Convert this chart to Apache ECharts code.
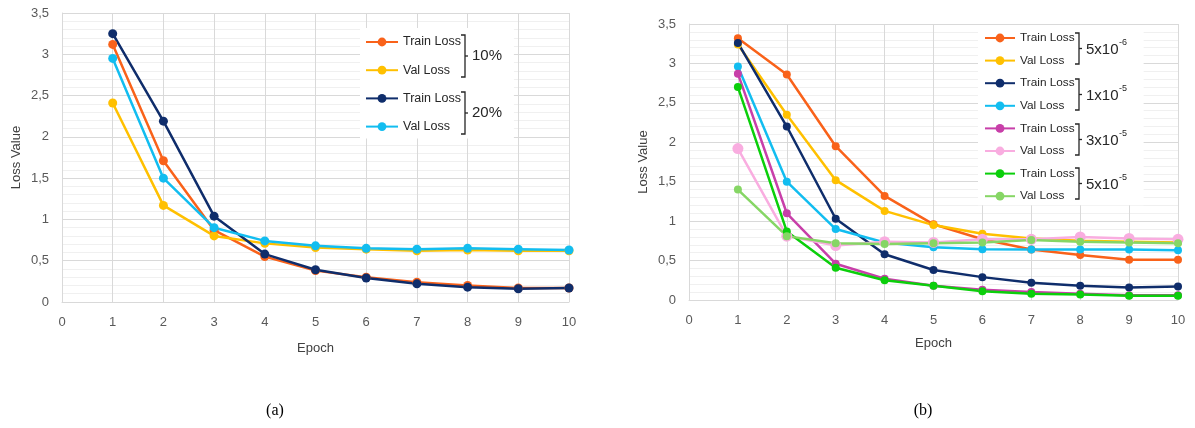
<!DOCTYPE html>
<html><head><meta charset="utf-8">
<script src="https://cdn.jsdelivr.net/npm/echarts@6/dist/echarts.min.js"></script>
<style>html,body{margin:0;padding:0;background:#fff}#c{width:1195px;height:428px}</style>
</head><body><div id="c"></div>
<script>
// ---------- DATA ----------
const epochs = [1, 2, 3, 4, 5, 6, 7, 8, 9, 10];
const yTicks = ['0', '0,5', '1', '1,5', '2', '2,5', '3', '3,5'];

// (a)
const trainA10 = [3.12, 1.71, 0.87, 0.55, 0.38, 0.30, 0.24, 0.20, 0.17, 0.17];
const valA10   = [2.41, 1.17, 0.80, 0.71, 0.66, 0.64, 0.62, 0.63, 0.62, 0.62];
const trainA20 = [3.25, 2.19, 1.04, 0.58, 0.39, 0.29, 0.22, 0.18, 0.16, 0.17];
const valA20   = [2.95, 1.50, 0.90, 0.74, 0.68, 0.65, 0.64, 0.65, 0.64, 0.63];
const groupsA  = ['10%', '20%'];

// (b)
const train5e6 = [3.32, 2.86, 1.95, 1.32, 0.96, 0.77, 0.64, 0.57, 0.51, 0.51];
const val5e6   = [3.24, 2.35, 1.52, 1.13, 0.95, 0.84, 0.78, 0.75, 0.74, 0.73];
const train1e5 = [3.26, 2.20, 1.03, 0.58, 0.38, 0.29, 0.22, 0.18, 0.16, 0.17];
const val1e5   = [2.96, 1.50, 0.90, 0.73, 0.67, 0.645, 0.64, 0.64, 0.64, 0.63];
const train3e5 = [2.87, 1.10, 0.46, 0.27, 0.18, 0.13, 0.10, 0.08, 0.06, 0.06];
const val3e5   = [1.92, 0.81, 0.69, 0.74, 0.73, 0.77, 0.77, 0.80, 0.78, 0.77];
const train5e5 = [2.70, 0.87, 0.41, 0.25, 0.18, 0.11, 0.08, 0.07, 0.055, 0.055];
const val5e5   = [1.40, 0.81, 0.72, 0.71, 0.72, 0.73, 0.76, 0.74, 0.73, 0.72];
const groupsB  = [['5x10', '-6'], ['1x10', '-5'], ['3x10', '-5'], ['5x10', '-5']];

// ---------- STYLE ----------
const FONT = 'Liberation Sans, Arial, sans-serif';
const C = {
  orange: '#F9621A', yellow: '#FFC000', navy: '#0F2D6B', cyan: '#12BDF0',
  magenta: '#C83FA9', pink: '#F9ADE0', green: '#0BCF0B', lgreen: '#86D665'
};

function pts(arr) { return epochs.map((e, i) => [e, arr[i]]); }
function mk(name, arr, color, grid, size) {
  return {
    name: name, type: 'line', xAxisIndex: grid, yAxisIndex: grid,
    data: pts(arr), symbol: 'circle', symbolSize: size || 9,
    lineStyle: { color: color, width: 2.5 }, itemStyle: { color: color },
    emphasis: { disabled: true }, animation: false
  };
}

const seriesA = [
  mk('Train Loss|a10', trainA10, C.orange, 0),
  mk('Val Loss|a10', valA10, C.yellow, 0),
  mk('Train Loss|a20', trainA20, C.navy, 0),
  mk('Val Loss|a20', valA20, C.cyan, 0)
];
const seriesB = [
  mk('Train Loss|b1', train5e6, C.orange, 1, 8),
  mk('Val Loss|b1', val5e6, C.yellow, 1, 8),
  mk('Train Loss|b2', train1e5, C.navy, 1, 8),
  mk('Val Loss|b2', val1e5, C.cyan, 1, 8),
  mk('Train Loss|b3', train3e5, C.magenta, 1, 8),
  mk('Val Loss|b3', val3e5, C.pink, 1, 11),
  mk('Train Loss|b4', train5e5, C.green, 1, 8),
  mk('Val Loss|b4', val5e5, C.lgreen, 1, 8)
];

function xAx(grid, gap) {
  return {
    type: 'value', gridIndex: grid, min: 0, max: 10, interval: 1,
    name: 'Epoch', nameLocation: 'middle', nameGap: gap,
    nameTextStyle: { color: '#404040', fontSize: 13, fontFamily: FONT },
    axisLine: { lineStyle: { color: '#d9d9d9' } }, axisTick: { show: false },
    axisLabel: { color: '#595959', fontSize: 13, fontFamily: FONT, margin: 14 },
    splitLine: { show: true, lineStyle: { color: '#d9d9d9', width: 1 } }
  };
}
function yAx(grid) {
  return {
    type: 'value', gridIndex: grid, min: 0, max: 3.5, interval: 0.5,
    name: 'Loss Value', nameLocation: 'middle', nameGap: 39, nameRotate: 90,
    nameTextStyle: { color: '#404040', fontSize: 13, fontFamily: FONT },
    axisLine: { show: true, lineStyle: { color: '#d9d9d9' } }, axisTick: { show: false },
    axisLabel: { color: '#595959', fontSize: 13, fontFamily: FONT, margin: 13,
      formatter: (v) => yTicks[Math.round(v / 0.5)] },
    splitLine: { show: true, lineStyle: { color: '#d9d9d9', width: 1 } },
    minorTick: { show: false, splitNumber: 5 },
    minorSplitLine: { show: true, lineStyle: { color: '#f0f0f0', width: 1 } }
  };
}

function legend(series, left, top, padding, itemWidth, itemGap, fs) {
  return {
    orient: 'vertical', left: left, top: top, padding: padding,
    backgroundColor: '#ffffff', itemWidth: itemWidth, itemHeight: 11, itemGap: itemGap,
    selectedMode: false,
    textStyle: { fontSize: fs, color: '#262626', fontFamily: FONT, lineHeight: 16 },
    formatter: (n) => n.split('|')[0],
    data: series.map(s => s.name)
  };
}

// brackets + group labels
function measure(text, size) {
  const cv = document.createElement('canvas').getContext('2d');
  cv.font = size + 'px ' + FONT;
  return cv.measureText(text).width;
}
const graphics = [];
function bracket(x, y1, y2) {
  const mid = (y1 + y2) / 2;
  graphics.push({
    type: 'polyline', z: 100,
    shape: { points: [[x - 4, y1], [x, y1], [x, y2], [x - 4, y2]] },
    style: { stroke: '#262626', lineWidth: 1.3, fill: null }
  });
  graphics.push({
    type: 'line', z: 100, shape: { x1: x, y1: mid, x2: x + 3, y2: mid },
    style: { stroke: '#262626', lineWidth: 1.3 }
  });
}
// (a)
const bracketsA = [[35, 77], [92, 134]];
groupsA.forEach((g, i) => {
  const [y1, y2] = bracketsA[i];
  bracket(465, y1, y2);
  graphics.push({ type: 'text', z: 100, x: 472, y: (y1 + y2) / 2,
    style: { text: g, fontSize: 15, fill: '#262626', font: '15px ' + FONT, verticalAlign: 'middle' } });
});
// (b)
const bracketsB = [[33, 64], [79, 110], [124, 155], [168, 199]];
groupsB.forEach((g, i) => {
  const [y1, y2] = bracketsB[i];
  bracket(1079, y1, y2);
  const mid = (y1 + y2) / 2;
  graphics.push({ type: 'text', z: 100, x: 1086, y: mid + 1,
    style: { text: g[0], font: '15px ' + FONT, fill: '#262626', verticalAlign: 'middle' } });
  graphics.push({ type: 'text', z: 100, x: 1086 + measure(g[0], 15) + 0.5, y: mid - 6,
    style: { text: g[1], font: '9px ' + FONT, fill: '#262626', verticalAlign: 'middle' } });
});
// captions
graphics.push({ type: 'text', x: 275, y: 411,
  style: { text: '(a)', font: '16px Liberation Serif, Times New Roman, serif', fill: '#000', align: 'center', verticalAlign: 'middle' } });
graphics.push({ type: 'text', x: 923, y: 411,
  style: { text: '(b)', font: '16px Liberation Serif, Times New Roman, serif', fill: '#000', align: 'center', verticalAlign: 'middle' } });

const chart = echarts.init(document.getElementById('c'), null, { renderer: 'canvas' });
chart.setOption({
  backgroundColor: '#ffffff',
  animation: false,
  grid: [
    { left: 62, right: 1195 - 569, top: 13, bottom: 428 - 302 },
    { left: 689, right: 1195 - 1178, top: 24, bottom: 428 - 300 }
  ],
  xAxis: [xAx(0, 40), xAx(1, 37)],
  yAxis: [yAx(0), yAx(1)],
  legend: [
    legend(seriesA, 360, 28, [6, 53, 4, 5], 32, 12.2, 12.5),
    legend(seriesB, 978, 25, [5, 69, 1, 6], 30, 6.6, 11.8)
  ],
  graphic: graphics,
  series: seriesA.concat(seriesB)
});
</script>
</body></html>
